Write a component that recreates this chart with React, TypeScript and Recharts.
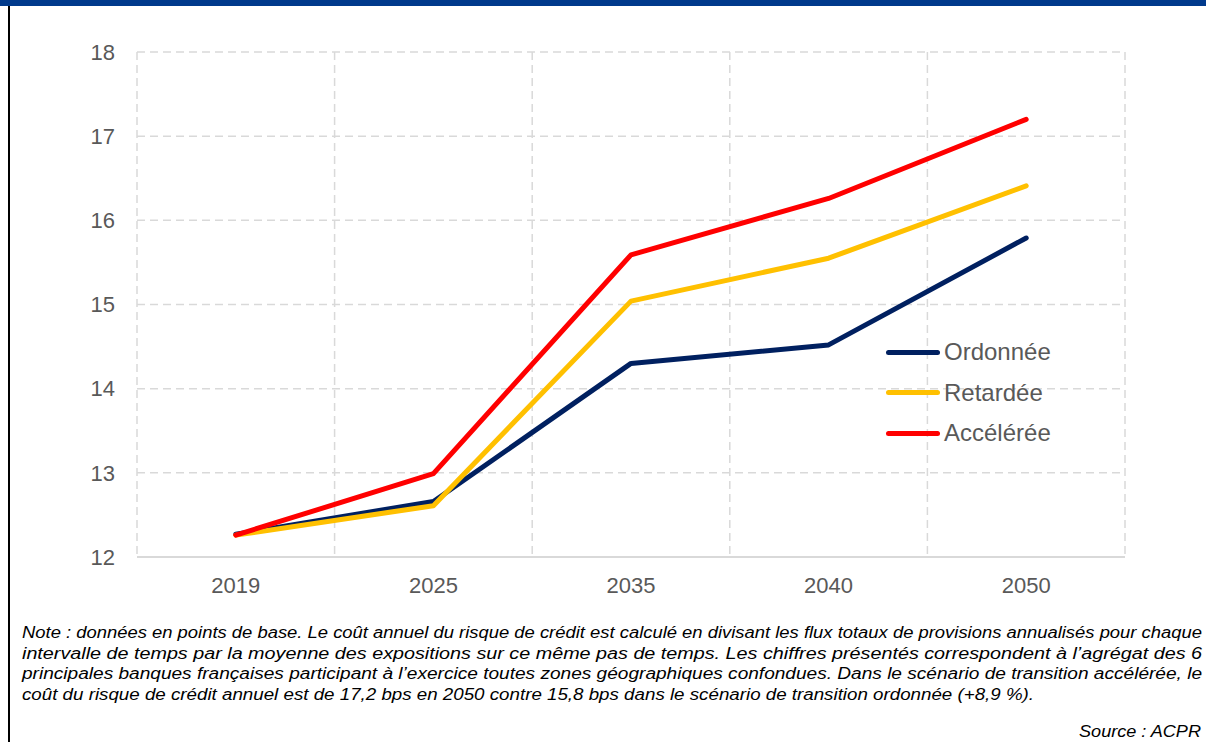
import { LineChart, Line, XAxis, YAxis, CartesianGrid } from 'recharts';

const years = ['2019', '2025', '2035', '2040', '2050'];
const ordonnee = [12.27, 12.66, 14.3, 14.52, 15.79];
const retardee = [12.26, 12.61, 15.04, 15.55, 16.41];
const acceleree = [12.26, 12.99, 15.59, 16.26, 17.2];
const yTicks = [12, 13, 14, 15, 16, 17, 18];

const seriesInfo = [
    { key: 'ordonnee', name: 'Ordonnée', color: '#002060' },
    { key: 'retardee', name: 'Retardée', color: '#FFC000' },
    { key: 'acceleree', name: 'Accélérée', color: '#FF0000' },
];

// note lines as laid out in the source document
const noteLines = [
    'Note : données en points de base. Le coût annuel du risque de crédit est calculé en divisant les flux totaux de provisions annualisés pour chaque',
    'intervalle de temps par la moyenne des expositions sur ce même pas de temps. Les chiffres présentés correspondent à l’agrégat des 6',
    'principales banques françaises participant à l’exercice toutes zones géographiques confondues. Dans le scénario de transition accélérée, le',
    'coût du risque de crédit annuel est de 17,2 bps en 2050 contre 15,8 bps dans le scénario de transition ordonnée (+8,9 %).',
];
const noteWidths = [1180, 1180, 1180, 1012];

const chartData = years.map((year, i) => ({
    year,
    ordonnee: ordonnee[i],
    retardee: retardee[i],
    acceleree: acceleree[i],
}));

const FONT = '"Liberation Sans", Arial, sans-serif';

export default function App() {
    return (
        <div style={{ position: 'relative', width: 1206, height: 742, background: '#fff', overflow: 'hidden' }}>
            <style>{'body{margin:0}'}</style>
            <div style={{ position: 'absolute', left: 0, top: 0, width: 1206, height: 6, background: '#003A8C' }} />
            <div style={{ position: 'absolute', left: 8, top: 6, width: 2, height: 736, background: '#000' }} />
            <div style={{ position: 'absolute', left: 0, top: 0 }}>
                <LineChart
                    width={1206}
                    height={742}
                    data={chartData}
                    margin={{ top: 52, right: 81, left: 77, bottom: 125 }}
                >
                    <CartesianGrid
                        stroke="#D9D9D9"
                        strokeWidth={1.5}
                        strokeDasharray="8 5"
                        verticalCoordinatesGenerator={({ offset }: any) =>
                            years.concat(['']).map((_, i) => offset.left + (i * offset.width) / years.length)
                        }
                    />
                    <XAxis
                        dataKey="year"
                        scale="band"
                        height={60}
                        axisLine={{ stroke: '#D9D9D9', strokeWidth: 2 }}
                        tickLine={false}
                        tickSize={18}
                        tickMargin={2}
                        tick={{ fill: '#595959', fontSize: 22, fontFamily: FONT }}
                    />
                    <YAxis
                        width={60}
                        domain={[12, 18]}
                        ticks={yTicks}
                        axisLine={false}
                        tickLine={false}
                        tickSize={20}
                        tickMargin={2}
                        tick={{ fill: '#595959', fontSize: 22, fontFamily: FONT }}
                    />
                    {seriesInfo.map((s) => (
                        <Line
                            key={s.key}
                            type="linear"
                            dataKey={s.key}
                            name={s.name}
                            stroke={s.color}
                            strokeWidth={5}
                            strokeLinecap="round"
                            strokeLinejoin="round"
                            dot={false}
                            isAnimationActive={false}
                        />
                    ))}
                </LineChart>
            </div>
            <div style={{ position: 'absolute', left: 886, top: 332, fontFamily: FONT }}>
                {seriesInfo.map((s) => (
                    <div key={s.key} style={{ display: 'flex', alignItems: 'center', height: 40.5 }}>
                        <div style={{ width: 54, height: 5, borderRadius: 3, background: s.color, marginRight: 4 }} />
                        <span style={{ fontSize: 24, color: '#595959' }}>{s.name}</span>
                    </div>
                ))}
            </div>
            <svg
                width={1206}
                height={742}
                style={{ position: 'absolute', left: 0, top: 0, pointerEvents: 'none' }}
                fontFamily={FONT}
                fontStyle="italic"
                fontSize={16}
                fill="#000"
            >
                {noteLines.map((line, i) => (
                    <text key={i} x={22} y={638 + i * 20.7} textLength={noteWidths[i]} lengthAdjust="spacingAndGlyphs">
                        {line}
                    </text>
                ))}
                <text x={1079} y={737} textLength={122} lengthAdjust="spacingAndGlyphs">
                    Source : ACPR
                </text>
            </svg>
        </div>
    );
}
